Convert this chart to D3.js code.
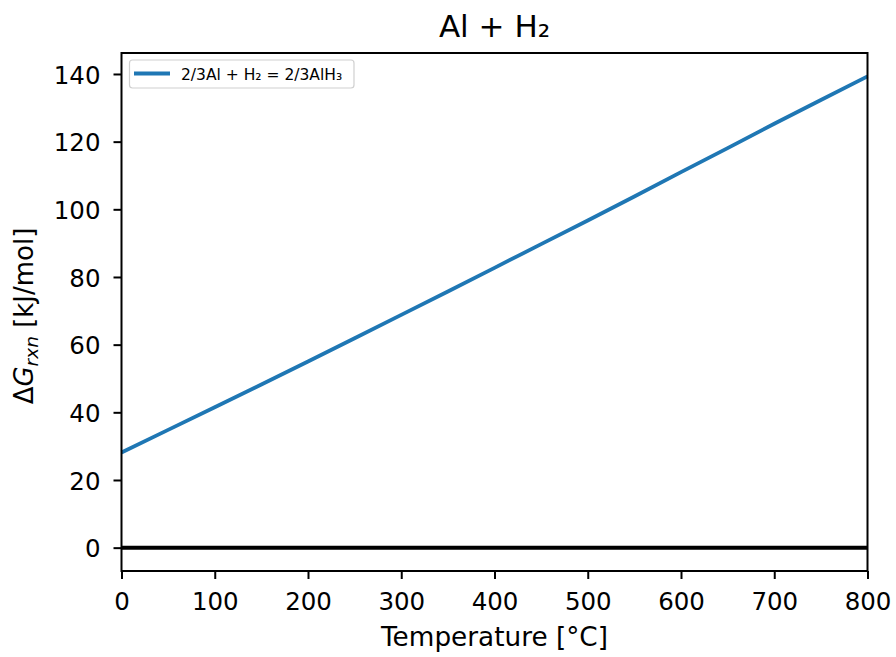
<!DOCTYPE html>
<html>
<head>
<meta charset="utf-8">
<script src="https://cdn.jsdelivr.net/npm/d3@7"></script>
<style>
  html, body { margin: 0; padding: 0; background: #fff; }
  text { font-family: "DejaVu Sans", sans-serif; fill: #000; }
</style>
</head>
<body>
<svg id="chart" width="896" height="657"></svg>
<script>
// ---- data ----
const temperatures = [0, 50, 100, 150, 200, 250, 300, 350, 400, 450, 500, 550, 600, 650, 700, 750, 800];
const dG = [28.1, 34.8, 41.5, 48.2, 55.0, 61.9, 68.8, 75.7, 82.7, 89.7, 96.7, 103.8, 111.0, 118.1, 125.3, 132.3, 139.3];
const seriesName = "2/3Al + H\u2082 = 2/3AlH\u2083";
const xTicks = [0, 100, 200, 300, 400, 500, 600, 700, 800];
const yTicks = [0, 20, 40, 60, 80, 100, 120, 140];
const xDomain = [0, 800];
const yDomain = [-6.9, 146.2];
const titleText = "Al + H\u2082";

// ---- layout ----
const svg = d3.select("#chart");
const pL = 121.5, pR = 867.5, pT = 53, pB = 571;
const x = d3.scaleLinear().domain(xDomain).range([pL, pR]);
const y = d3.scaleLinear().domain(yDomain).range([pB, pT]);
const tickFont = 24.5;

// zero line
svg.append("line")
  .attr("x1", x(xDomain[0])).attr("x2", x(xDomain[1]))
  .attr("y1", y(0)).attr("y2", y(0))
  .attr("stroke", "#000").attr("stroke-width", 4);

// series line
const line = d3.line().x((d, i) => x(temperatures[i])).y(d => y(d));
svg.append("path")
  .datum(dG)
  .attr("d", line)
  .attr("fill", "none")
  .attr("stroke", "#1f77b4")
  .attr("stroke-width", 3.8);

// frame
svg.append("rect")
  .attr("x", pL).attr("y", pT)
  .attr("width", pR - pL).attr("height", pB - pT)
  .attr("fill", "none").attr("stroke", "#000").attr("stroke-width", 2);

// axes
const xAxis = d3.axisBottom(x).tickValues(xTicks).tickSize(8).tickPadding(14).tickFormat(d3.format("d"));
const gx = svg.append("g").attr("transform", `translate(0,${pB})`).call(xAxis);
const yAxis = d3.axisLeft(y).tickValues(yTicks).tickSize(8).tickPadding(13).tickFormat(d3.format("d"));
const gy = svg.append("g").attr("transform", `translate(${pL},0)`).call(yAxis);
[gx, gy].forEach(g => {
  g.select(".domain").remove();
  g.selectAll(".tick line").attr("stroke", "#000").attr("stroke-width", 2);
  g.selectAll(".tick text").attr("font-size", tickFont).attr("font-family", "DejaVu Sans").attr("fill", "#000");
});
gx.selectAll(".tick text").attr("dy", "0.71em");
gy.selectAll(".tick text").attr("dy", "0.37em");

// title
svg.append("text")
  .attr("x", (pL + pR) / 2).attr("y", 37)
  .attr("text-anchor", "middle")
  .attr("font-size", 31)
  .text(titleText);

// x label
svg.append("text")
  .attr("x", (pL + pR) / 2).attr("y", 646)
  .attr("text-anchor", "middle")
  .attr("font-size", 26.3)
  .text("Temperature [\u00B0C]");

// y label
const yl = svg.append("text")
  .attr("transform", `translate(33,316) rotate(-90)`)
  .attr("text-anchor", "middle")
  .attr("font-size", 26);
yl.append("tspan").text("\u0394");
yl.append("tspan").attr("font-style", "italic").text("G");
yl.append("tspan").attr("font-style", "italic").attr("font-size", 18.5).attr("dy", 4.5).text("rxn");
yl.append("tspan").attr("dy", -4.5).text(" [kJ/mol]");

// legend
const lg = svg.append("g");
lg.append("rect")
  .attr("x", 129.5).attr("y", 60).attr("width", 224.5).attr("height", 28)
  .attr("rx", 3).attr("fill", "#fff").attr("fill-opacity", 0.8)
  .attr("stroke", "#d0d0d0").attr("stroke-width", 1.2);
lg.append("line")
  .attr("x1", 134).attr("x2", 170).attr("y1", 73.5).attr("y2", 73.5)
  .attr("stroke", "#1f77b4").attr("stroke-width", 3.8);
lg.append("text")
  .attr("x", 181).attr("y", 80)
  .attr("font-size", 15.5)
  .text(seriesName);
</script>
</body>
</html>
